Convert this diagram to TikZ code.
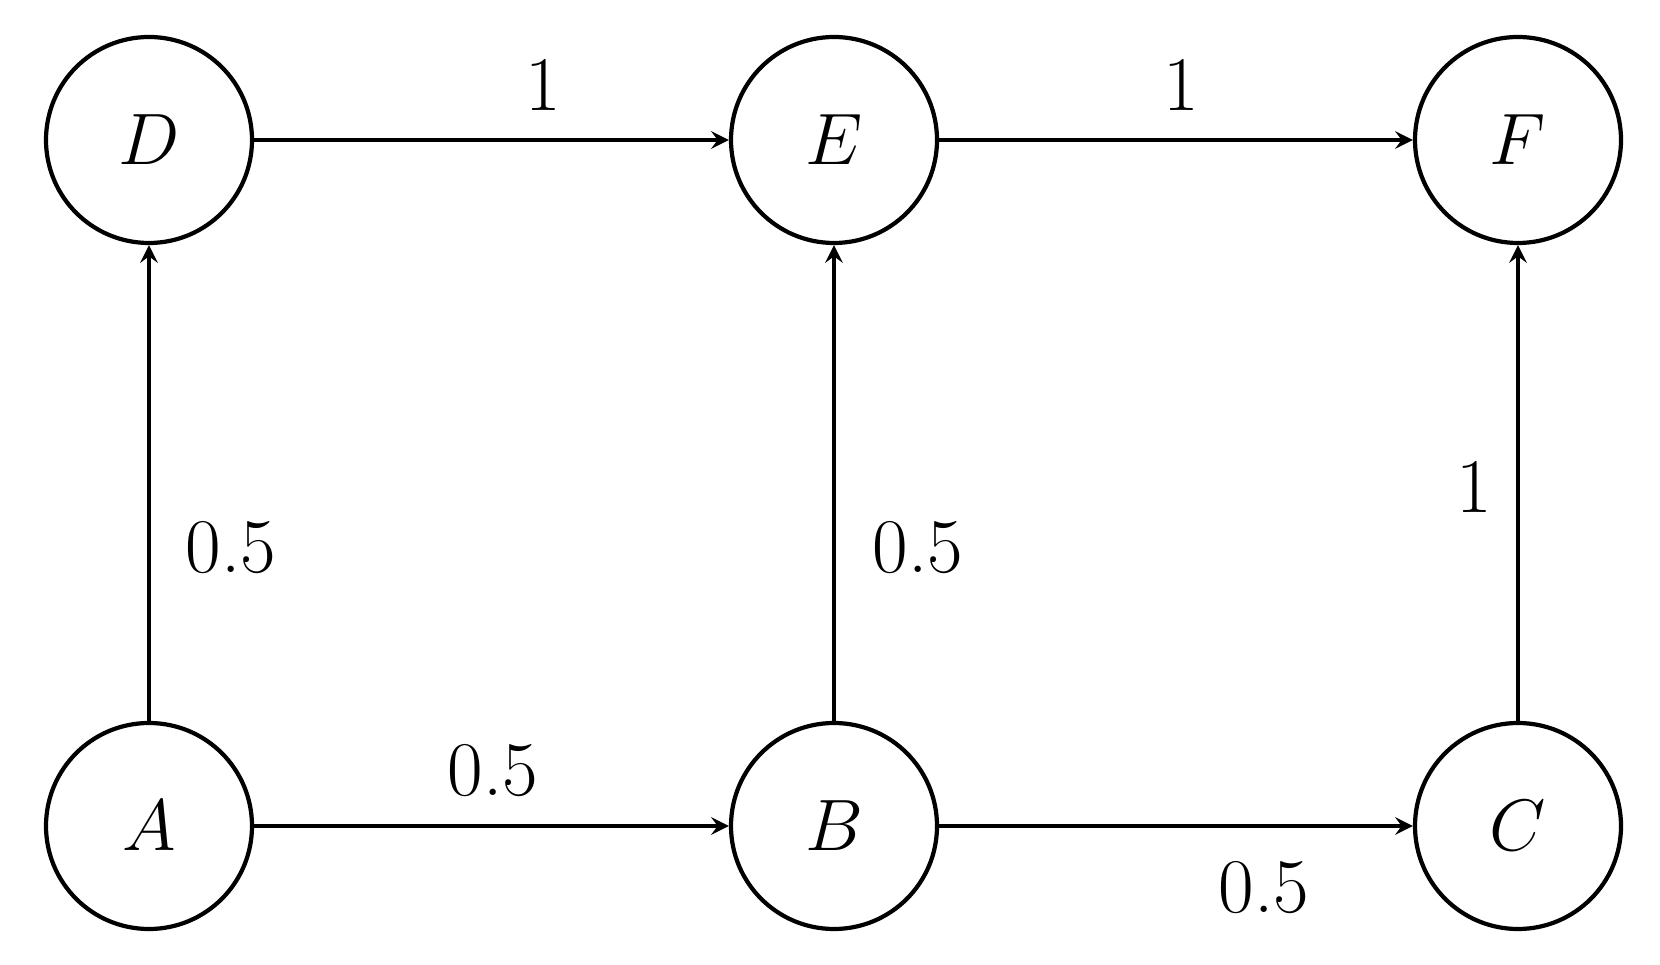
\documentclass[tikz,border=0pt]{standalone}
\begin{document}
\begin{tikzpicture}[
  v/.style={circle,draw,line width=1.2pt,minimum size=2.06cm,inner sep=0pt,font=\fontsize{22}{26}\selectfont},
  e/.style={->,>=stealth,line width=1.2pt},
  lb/.style={font=\fontsize{22}{26}\selectfont}]
\useasboundingbox (0,0) rectangle (16.6,9.64);
\node[v] (A) at (1.49,1.38) {$A$};
\node[v] (B) at (8.34,1.38) {$B$};
\node[v] (C) at (15.18,1.38) {$C$};
\node[v] (D) at (1.49,8.24) {$D$};
\node[v] (E) at (8.34,8.24) {$E$};
\node[v] (F) at (15.18,8.24) {$F$};
\draw[e] (D) -- (E);
\draw[e] (E) -- (F);
\draw[e] (A) -- (B);
\draw[e] (B) -- (C);
\draw[e] (A) -- (D);
\draw[e] (B) -- (E);
\draw[e] (C) -- (F);
\node[lb] (l1) at (5.43,8.79) {1};
\node[lb] (l2) at (11.81,8.79) {1};
\node[lb] (l3) at (4.93,1.93) {0.5};
\node[lb] (l4) at (12.64,0.76) {0.5};
\node[lb] (l5) at (2.31,4.16) {0.5};
\node[lb] (l6) at (9.18,4.16) {0.5};
\node[lb] (l7) at (14.74,4.77) {1};
\end{tikzpicture}
\end{document}
